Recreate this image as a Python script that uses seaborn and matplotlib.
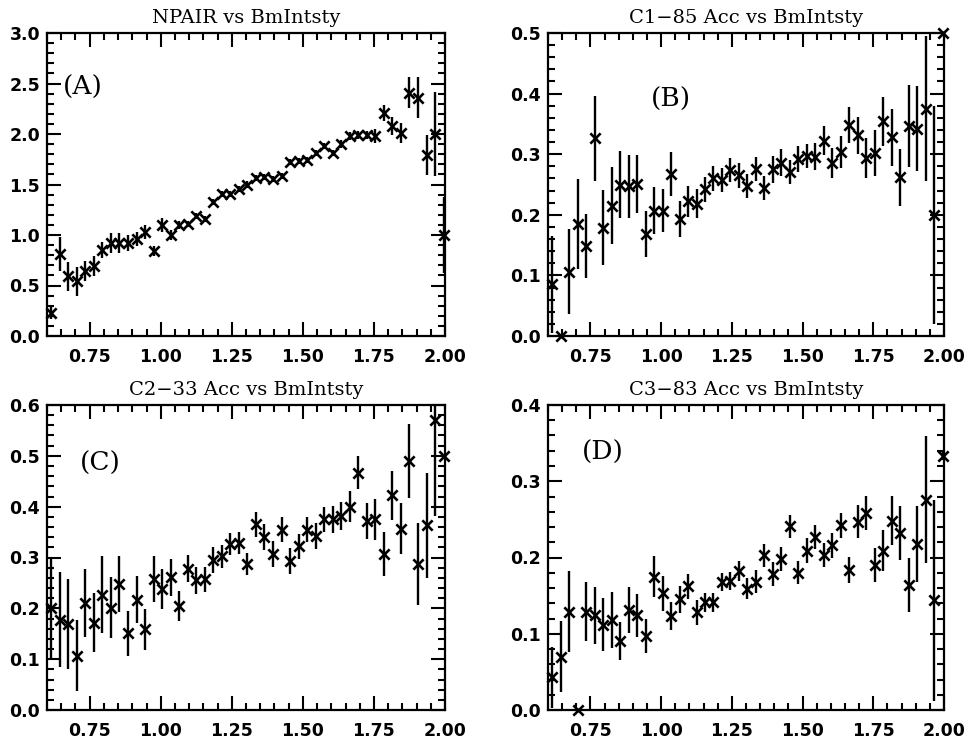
import matplotlib
matplotlib.use("Agg")
import matplotlib.pyplot as plt
from matplotlib.ticker import MultipleLocator, FixedLocator, FormatStrFormatter
import numpy as np
import pandas as pd
import seaborn as sns

# ---------------- data ----------------
bm_intensity = [0.615, 0.645, 0.675, 0.705, 0.735, 0.765, 0.795, 0.825, 0.855, 0.885,
                0.915, 0.945, 0.975, 1.005, 1.035, 1.065, 1.095, 1.125, 1.155, 1.185,
                1.215, 1.245, 1.275, 1.305, 1.335, 1.365, 1.395, 1.425, 1.455, 1.485,
                1.515, 1.545, 1.575, 1.605, 1.635, 1.665, 1.695, 1.725, 1.755, 1.785,
                1.815, 1.845, 1.875, 1.905, 1.935, 1.965, 1.995]

npair = [0.23, 0.81, 0.59, 0.54, 0.64, 0.69, 0.85, 0.92, 0.92, 0.92,
         0.96, 1.03, 0.84, 1.10, 1.00, 1.10, 1.11, 1.19, 1.16, 1.33,
         1.41, 1.41, 1.46, 1.50, 1.56, 1.57, 1.55, 1.58, 1.72, 1.73,
         1.74, 1.81, 1.88, 1.81, 1.90, 1.98, 1.99, 1.99, 1.98, 2.21,
         2.08, 2.01, 2.41, 2.36, 1.79, 2.00, 1.00]
npair_err = [0.06, 0.17, 0.14, 0.14, 0.10, 0.10, 0.08, 0.10, 0.10, 0.08,
             0.07, 0.07, 0.05, 0.07, 0.05, 0.04, 0.03, 0.03, 0.03, 0.03,
             0.03, 0.03, 0.03, 0.03, 0.03, 0.03, 0.03, 0.03, 0.03, 0.03,
             0.03, 0.03, 0.03, 0.03, 0.04, 0.04, 0.04, 0.04, 0.07, 0.08,
             0.09, 0.10, 0.15, 0.20, 0.20, 0.42, 0.38]

c1_85_acc = [0.085, 0.0, 0.106, 0.185, 0.149, 0.326, 0.179, 0.215, 0.250, 0.247,
             0.251, 0.169, 0.207, 0.207, 0.267, 0.193, 0.222, 0.218, 0.242, 0.260,
             0.258, 0.274, 0.265, 0.247, 0.275, 0.244, 0.275, 0.286, 0.271, 0.292,
             0.297, 0.296, 0.322, 0.286, 0.304, 0.348, 0.331, 0.293, 0.302, 0.354,
             0.328, 0.262, 0.347, 0.342, 0.375, 0.200, 0.500]
c1_85_err = [0.080, 0.0, 0.070, 0.074, 0.053, 0.070, 0.062, 0.064, 0.056, 0.052,
             0.048, 0.038, 0.039, 0.036, 0.036, 0.030, 0.025, 0.024, 0.021, 0.020,
             0.020, 0.020, 0.020, 0.020, 0.020, 0.020, 0.022, 0.022, 0.020, 0.022,
             0.020, 0.022, 0.024, 0.025, 0.026, 0.030, 0.030, 0.033, 0.038, 0.040,
             0.047, 0.047, 0.068, 0.070, 0.120, 0.180, 0.0]

c2_33_acc = [0.201, 0.178, 0.169, 0.107, 0.211, 0.172, 0.227, 0.201, 0.248, 0.151,
             0.217, 0.159, 0.258, 0.238, 0.261, 0.205, 0.278, 0.255, 0.257, 0.295,
             0.302, 0.327, 0.329, 0.287, 0.365, 0.340, 0.307, 0.355, 0.293, 0.322,
             0.355, 0.342, 0.375, 0.375, 0.382, 0.400, 0.467, 0.372, 0.375, 0.307,
             0.422, 0.357, 0.490, 0.287, 0.363, 0.571, 0.500]
c2_33_err = [0.100, 0.093, 0.088, 0.070, 0.067, 0.058, 0.075, 0.060, 0.055, 0.044,
             0.046, 0.040, 0.045, 0.039, 0.037, 0.030, 0.027, 0.027, 0.025, 0.025,
             0.022, 0.022, 0.022, 0.022, 0.025, 0.025, 0.025, 0.025, 0.025, 0.025,
             0.025, 0.025, 0.025, 0.027, 0.027, 0.030, 0.033, 0.035, 0.040, 0.043,
             0.048, 0.050, 0.073, 0.080, 0.103, 0.190, 0.0]

c3_83_acc = [0.043, 0.070, 0.129, 0.0, 0.129, 0.124, 0.112, 0.118, 0.091, 0.131,
             0.124, 0.097, 0.175, 0.153, 0.123, 0.145, 0.162, 0.128, 0.141, 0.141,
             0.168, 0.169, 0.182, 0.159, 0.168, 0.203, 0.178, 0.198, 0.241, 0.180,
             0.209, 0.227, 0.203, 0.216, 0.242, 0.184, 0.247, 0.258, 0.190, 0.209,
             0.248, 0.232, 0.164, 0.218, 0.276, 0.144, 0.333]
c3_83_err = [0.040, 0.047, 0.053, 0.0, 0.039, 0.037, 0.035, 0.037, 0.025, 0.030,
             0.028, 0.022, 0.027, 0.023, 0.018, 0.018, 0.016, 0.016, 0.013, 0.013,
             0.012, 0.012, 0.013, 0.014, 0.015, 0.015, 0.016, 0.016, 0.015, 0.015,
             0.016, 0.016, 0.016, 0.016, 0.017, 0.017, 0.022, 0.022, 0.022, 0.027,
             0.032, 0.035, 0.035, 0.050, 0.083, 0.132, 0.005]

titles = ["NPAIR vs BmIntsty", "C1\u221285 Acc vs BmIntsty",
          "C2\u221233 Acc vs BmIntsty", "C3\u221283 Acc vs BmIntsty"]
panel_labels = ["(A)", "(B)", "(C)", "(D)"]
x_ticks = [0.75, 1.00, 1.25, 1.50, 1.75, 2.00]

# ---------------- style ----------------
sns.set_theme(style="ticks")
plt.rcParams["font.family"] = ["DejaVu Sans"]
plt.rcParams["axes.linewidth"] = 1.6
plt.rcParams["text.color"] = "black"
plt.rcParams["axes.titlecolor"] = "black"

fig = plt.figure(figsize=(9.71, 7.40), dpi=100)
W, H = 971.0, 740.0

def axes_rect(left, right, top, bottom):
    return [left / W, 1 - bottom / H, (right - left) / W, (bottom - top) / H]

rects = [axes_rect(47, 445, 33, 336), axes_rect(548, 944, 33, 336),
         axes_rect(47, 445, 405, 710), axes_rect(548, 944, 405, 710)]

panels = [
    (npair, npair_err, 3.0, 0.5, (0.04, 0.82)),
    (c1_85_acc, c1_85_err, 0.5, 0.1, (0.26, 0.78)),
    (c2_33_acc, c2_33_err, 0.6, 0.1, (0.083, 0.81)),
    (c3_83_acc, c3_83_err, 0.4, 0.1, (0.086, 0.846)),
]

for i, (vals, errs, ymax, ystep, lab_pos) in enumerate(panels):
    ax = fig.add_axes(rects[i])
    df = pd.DataFrame({"x": bm_intensity, "y": vals, "err": errs})
    ax.errorbar(df["x"], df["y"], yerr=df["err"], fmt="none", ecolor="black",
                elinewidth=1.7, capsize=0, zorder=2)
    sns.scatterplot(data=df, x="x", y="y", marker="x", s=55, color="black",
                    linewidth=1.9, ax=ax, zorder=3, clip_on=False, legend=False)
    ax.set_xlim(0.6, 2.0)
    ax.set_ylim(0, ymax)
    ax.set_xlabel("")
    ax.set_ylabel("")
    ax.xaxis.set_major_locator(FixedLocator(x_ticks))
    ax.xaxis.set_major_formatter(FormatStrFormatter("%.2f"))
    ax.xaxis.set_minor_locator(MultipleLocator(0.05))
    ax.yaxis.set_major_locator(MultipleLocator(ystep))
    ax.yaxis.set_major_formatter(FormatStrFormatter("%.1f"))
    ax.yaxis.set_minor_locator(MultipleLocator(ystep / 5))
    ax.tick_params(which="both", direction="in", top=True, right=True,
                   colors="black", width=1.5)
    ax.tick_params(which="major", length=10)
    ax.tick_params(which="minor", length=5)
    ax.tick_params(axis="x", which="major", pad=9)
    ax.tick_params(axis="y", which="major", pad=5)
    for lbl in ax.get_xticklabels() + ax.get_yticklabels():
        lbl.set_fontweight("bold")
        lbl.set_fontsize(12.5)
        lbl.set_color("black")
    for sp in ax.spines.values():
        sp.set_linewidth(1.6)
        sp.set_color("black")
    ax.set_title(titles[i], fontfamily="DejaVu Serif", fontsize=14, pad=7,
                 color="black")
    ax.text(lab_pos[0], lab_pos[1], panel_labels[i], transform=ax.transAxes,
            fontfamily="DejaVu Serif", fontsize=19, ha="left", va="center",
            color="black")
    ax.set_facecolor("white")

fig.patch.set_facecolor("white")
fig.savefig("out.png", dpi=100, facecolor="white")
